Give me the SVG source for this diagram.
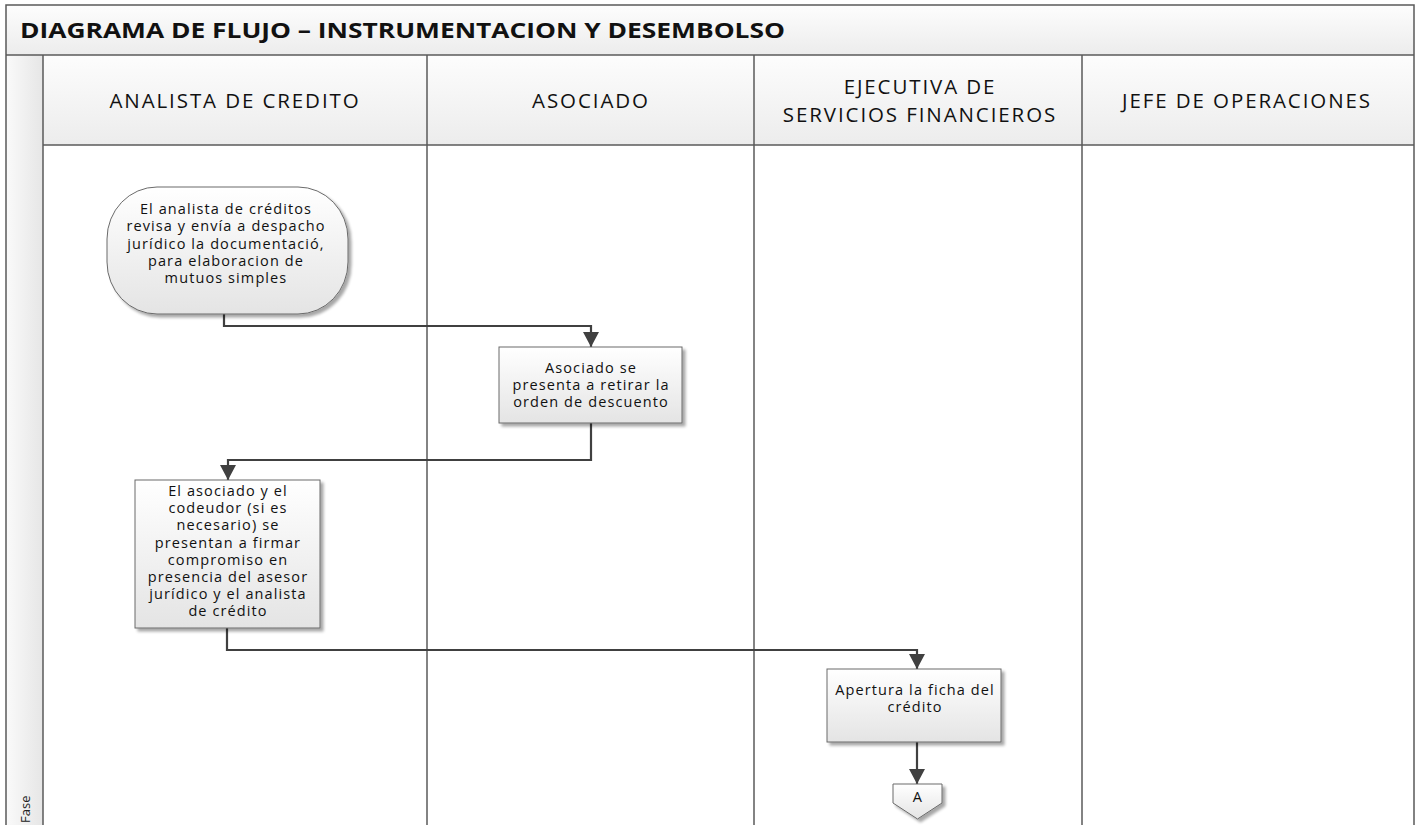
<svg xmlns="http://www.w3.org/2000/svg" width="1418" height="825" viewBox="0 0 1418 825">
  <defs>
    <linearGradient id="hdr" x1="0" y1="0" x2="0" y2="1">
      <stop offset="0" stop-color="#fdfdfd"/>
      <stop offset="1" stop-color="#ececec"/>
    </linearGradient>
    <linearGradient id="phase" x1="0" y1="0" x2="1" y2="0">
      <stop offset="0" stop-color="#fafafa"/>
      <stop offset="1" stop-color="#e6e6e6"/>
    </linearGradient>
    <linearGradient id="box" x1="0" y1="0" x2="0" y2="1">
      <stop offset="0" stop-color="#ffffff"/>
      <stop offset="1" stop-color="#e4e4e4"/>
    </linearGradient>
    <filter id="shadow" x="-10%" y="-10%" width="125%" height="125%">
      <feGaussianBlur in="SourceAlpha" stdDeviation="1.5"/>
      <feOffset dx="2.5" dy="2.5" result="b"/>
      <feComponentTransfer><feFuncA type="linear" slope="0.35"/></feComponentTransfer>
      <feMerge><feMergeNode/><feMergeNode in="SourceGraphic"/></feMerge>
    </filter>
    <marker id="arrow" viewBox="0 0 15 16" refX="15" refY="8" markerWidth="15" markerHeight="16" markerUnits="userSpaceOnUse" orient="auto">
      <path d="M0,0 L15,8 L0,16 Z" fill="#404040"/>
    </marker>
  </defs>
  <style>
    .frame { fill: none; stroke: #5a5a5a; stroke-width: 1.5; }
    .lane { stroke: #5a5a5a; stroke-width: 1.5; }
    .node { fill: url(#box); stroke: #6a6a6a; stroke-width: 1; filter: url(#shadow); }
    .lbl { font-family: "Open Sans", "DejaVu Sans", sans-serif; font-size: 14.5px; letter-spacing: 1.1px; fill: #111; text-anchor: middle; }
    .hd { font-family: "Open Sans", "DejaVu Sans", sans-serif; font-size: 20.5px; letter-spacing: 1.9px; fill: #111; text-anchor: middle; }
    .title { font-family: "Open Sans", "DejaVu Sans", sans-serif; font-size: 21px; font-weight: bold; fill: #111; }
    .conn { fill: none; stroke: #404040; stroke-width: 2.2; marker-end: url(#arrow); }
  </style>

  <!-- pool background -->
  <rect x="6" y="5" width="1408" height="825" fill="#ffffff"/>
  <!-- title band -->
  <rect x="6" y="5" width="1408" height="50" fill="url(#hdr)"/>
  <text class="title" x="20" y="38" textLength="765" lengthAdjust="spacingAndGlyphs">DIAGRAMA DE FLUJO – INSTRUMENTACION Y DESEMBOLSO</text>
  <!-- phase column -->
  <rect x="6" y="55" width="37" height="775" fill="url(#phase)"/>
  <text x="30" y="823" transform="rotate(-90 30 823)" font-family="Open Sans, DejaVu Sans, sans-serif" font-size="13" fill="#222">Fase</text>
  <!-- lane header row -->
  <rect x="43" y="55" width="1371" height="90" fill="url(#hdr)"/>
  <text class="hd" x="235" y="108">ANALISTA DE CREDITO</text>
  <text class="hd" x="591" y="108">ASOCIADO</text>
  <text class="hd" x="920" y="94">EJECUTIVA DE</text>
  <text class="hd" x="920" y="122">SERVICIOS FINANCIEROS</text>
  <text class="hd" x="1247" y="108">JEFE DE OPERACIONES</text>

  <!-- grid lines -->
  <path class="frame" d="M6,830 V5 H1414 V830"/>
  <line class="lane" x1="6" y1="55" x2="1414" y2="55"/>
  <line class="lane" x1="43" y1="145" x2="1414" y2="145"/>
  <line class="lane" x1="43" y1="55" x2="43" y2="830"/>
  <line class="lane" x1="427" y1="55" x2="427" y2="830"/>
  <line class="lane" x1="754" y1="55" x2="754" y2="830"/>
  <line class="lane" x1="1082" y1="55" x2="1082" y2="830"/>

  <!-- connectors -->
  <g id="connectors">
    <path class="conn" d="M224,314 V326 H591 V347"/>
    <path class="conn" d="M591,423 V460 H228 V480"/>
    <path class="conn" d="M227,628 V650 H917 V669"/>
    <path class="conn" d="M917,742 V784"/>
  </g>

  <g id="n1">
    <rect class="node" x="107" y="187" width="241" height="127" rx="50" ry="52"/>
    <text class="lbl" x="226" y="214">El analista de créditos</text>
    <text class="lbl" x="226" y="231.3">revisa y envía a despacho</text>
    <text class="lbl" x="226" y="248.6">jurídico la documentació,</text>
    <text class="lbl" x="226" y="265.9">para elaboracion de</text>
    <text class="lbl" x="226" y="283.2">mutuos simples</text>
  </g>

  <g id="n2">
    <rect class="node" x="499" y="347" width="183" height="76"/>
    <text class="lbl" x="591" y="372.5">Asociado se</text>
    <text class="lbl" x="591" y="389.8">presenta a retirar la</text>
    <text class="lbl" x="591" y="407.1">orden de descuento</text>
  </g>

  <g id="n3">
    <rect class="node" x="135" y="480" width="185" height="148"/>
    <text class="lbl" x="228" y="496">El asociado y el</text>
    <text class="lbl" x="228" y="513.2">codeudor (si es</text>
    <text class="lbl" x="228" y="530.4">necesario) se</text>
    <text class="lbl" x="228" y="547.6">presentan a firmar</text>
    <text class="lbl" x="228" y="564.8">compromiso en</text>
    <text class="lbl" x="228" y="582">presencia del asesor</text>
    <text class="lbl" x="228" y="599.2">jurídico y el analista</text>
    <text class="lbl" x="228" y="616.4">de crédito</text>
  </g>

  <g id="n4">
    <rect class="node" x="827" y="669" width="174" height="73"/>
    <text class="lbl" x="915" y="695">Apertura la ficha del</text>
    <text class="lbl" x="915" y="712">crédito</text>
  </g>

  <g id="offpage-a">
    <path class="node" d="M893,784 H942 V803 L917.5,819 L893,803 Z"/>
    <text class="lbl" x="918" y="802" font-size="14" letter-spacing="0">A</text>
  </g>
</svg>
